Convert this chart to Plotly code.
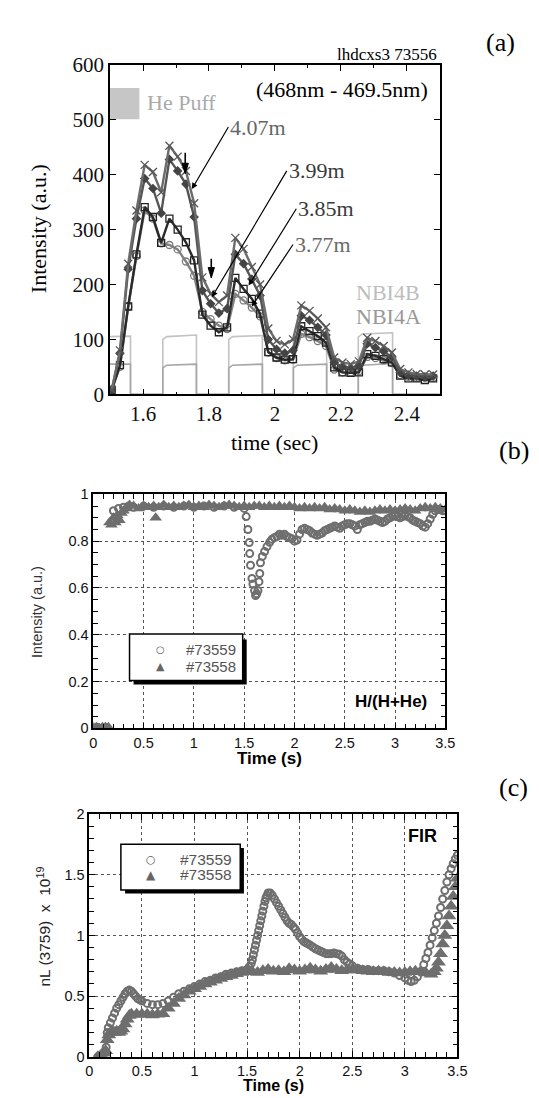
import plotly.graph_objects as go

# ---------------- Panel (a) data ----------------
time_a = [1.505, 1.53, 1.555, 1.58, 1.605, 1.63, 1.655, 1.68, 1.705, 1.73,
          1.755, 1.78, 1.805, 1.83, 1.855, 1.88, 1.905, 1.93, 1.955, 1.98,
          2.005, 2.03, 2.055, 2.08, 2.105, 2.13, 2.155, 2.18, 2.205, 2.23,
          2.255, 2.28, 2.305, 2.33, 2.355, 2.38, 2.405, 2.43, 2.455, 2.48]
int_407 = [8, 80, 238, 335, 418, 405, 368, 453, 433, 407,
           348, 213, 183, 168, 180, 285, 265, 232, 200, 120,
           97, 91, 100, 162, 152, 138, 122, 67, 58, 55,
           60, 103, 97, 88, 76, 46, 40, 37, 36, 36]
int_399 = [8, 75, 228, 320, 393, 375, 330, 428, 407, 383,
           323, 189, 165, 148, 156, 255, 238, 210, 180, 100,
           82, 75, 80, 143, 135, 122, 108, 58, 50, 48,
           52, 92, 85, 78, 68, 40, 35, 33, 32, 33]
int_385 = [8, 53, 160, 255, 341, 323, 276, 320, 300, 277,
           244, 145, 125, 113, 122, 212, 192, 174, 147, 77,
           67, 63, 64, 124, 115, 106, 94, 49, 40, 39,
           40, 73, 70, 64, 58, 34, 29, 29, 26, 29]
int_377 = [8, 50, 160, 252, 335, 320, 275, 272, 264, 242,
           216, 150, 137, 125, 119, 183, 171, 158, 142, 76,
           66, 62, 63, 110, 104, 97, 88, 45, 40, 40,
           42, 68, 66, 62, 57, 35, 32, 30, 30, 30]
nbi_time = [1.5, 1.562, 1.562, 1.66, 1.66, 1.672, 1.762, 1.762, 1.86, 1.86,
            1.872, 1.962, 1.962, 2.056, 2.056, 2.068, 2.157, 2.157, 2.253, 2.253,
            2.265, 2.357, 2.357, 2.5]
nbi4b = [105, 106, 0, 0, 100, 105, 108, 0, 0, 100,
         105, 107, 0, 0, 100, 104, 106, 0, 0, 104,
         110, 112, 0, 0]
nbi4a = [55, 55, 0, 0, 48, 53, 55, 0, 0, 48,
         53, 55, 0, 0, 48, 53, 55, 0, 0, 48,
         53, 56, 0, 0]

# ---------------- Panel (b) data ----------------
b_t58 = [0.0, 0.03, 0.06, 0.09, 0.12, 0.15, 0.16, 0.18, 0.2, 0.22,
         0.24, 0.26, 0.28, 0.3, 0.33, 0.36, 0.4, 0.45, 0.5, 0.55,
         0.6, 0.62, 0.65, 0.7, 0.75, 0.8, 0.85, 0.9, 0.95, 1.0,
         1.05, 1.1, 1.15, 1.2, 1.25, 1.3, 1.35, 1.4, 1.45, 1.5,
         1.55, 1.6, 1.65, 1.7, 1.75, 1.8, 1.85, 1.9, 1.95, 2.0,
         2.05, 2.1, 2.15, 2.2, 2.25, 2.3, 2.35, 2.4, 2.45, 2.5,
         2.55, 2.6, 2.65, 2.7, 2.75, 2.8, 2.85, 2.9, 2.95, 3.0,
         3.05, 3.1, 3.15, 3.2, 3.25, 3.3, 3.35, 3.4, 3.45, 3.5]
b_v58 = [0.005, 0.005, 0.0, 0.005, 0.005, 0.005, 0.88, 0.87, 0.90, 0.88,
         0.91, 0.89, 0.92, 0.93, 0.94, 0.955, 0.95, 0.94, 0.95, 0.945,
         0.95, 0.90, 0.945, 0.955, 0.945, 0.95, 0.945, 0.95, 0.955, 0.945,
         0.95, 0.945, 0.955, 0.95, 0.945, 0.95, 0.955, 0.95, 0.945, 0.95,
         0.945, 0.95, 0.95, 0.945, 0.95, 0.945, 0.95, 0.945, 0.95, 0.945,
         0.94, 0.945, 0.94, 0.945, 0.94, 0.945, 0.935, 0.94, 0.935, 0.93,
         0.935, 0.93, 0.925, 0.93, 0.925, 0.93, 0.935, 0.93, 0.935, 0.93,
         0.935, 0.94, 0.935, 0.93, 0.94, 0.945, 0.94, 0.945, 0.94, 0.935]
b_t59 = [0.0, 0.04, 0.08, 0.12, 0.2, 0.25, 0.3, 0.35, 0.4, 0.5,
         0.6, 0.7, 0.8, 0.9, 1.0, 1.1, 1.2, 1.3, 1.4, 1.5,
         1.52, 1.537, 1.55, 1.555, 1.563, 1.577, 1.587, 1.603, 1.613, 1.625,
         1.637, 1.647, 1.655, 1.662, 1.68, 1.703, 1.727, 1.753, 1.775,
         1.8, 1.825, 1.85, 1.875, 1.9, 1.925, 1.95, 1.975, 2.0, 2.025,
         2.05, 2.075, 2.1, 2.125, 2.15, 2.175, 2.2, 2.225, 2.25, 2.275,
         2.3, 2.325, 2.35, 2.375, 2.4, 2.425, 2.45, 2.475, 2.5, 2.525,
         2.55, 2.575, 2.6, 2.625, 2.65, 2.675, 2.7, 2.725, 2.75, 2.775,
         2.8, 2.825, 2.85, 2.875, 2.9, 2.925, 2.95, 2.975, 3.0, 3.025,
         3.05, 3.075, 3.1, 3.125, 3.15, 3.175, 3.2, 3.225, 3.25, 3.275,
         3.3, 3.325, 3.35, 3.375, 3.4, 3.425, 3.45, 3.475, 3.5]
b_v59 = [0.0, 0.005, 0.0, 0.005, 0.93, 0.94, 0.945, 0.95, 0.945, 0.95,
         0.945, 0.95, 0.945, 0.95, 0.945, 0.95, 0.945, 0.95, 0.945, 0.94,
         0.905, 0.85, 0.794, 0.747, 0.697, 0.641, 0.617, 0.589, 0.568, 0.575,
         0.589, 0.627, 0.662, 0.708, 0.735, 0.756, 0.777, 0.795, 0.808,
         0.815, 0.82, 0.83, 0.825, 0.83, 0.82, 0.815, 0.81, 0.80, 0.805,
         0.83, 0.85, 0.855, 0.85, 0.845, 0.835, 0.83, 0.825, 0.83, 0.835,
         0.845, 0.85, 0.855, 0.86, 0.865, 0.86, 0.855, 0.865, 0.87, 0.875,
         0.875, 0.87, 0.865, 0.85, 0.87, 0.875, 0.88, 0.885, 0.885, 0.89,
         0.895, 0.89, 0.885, 0.88, 0.885, 0.895, 0.9, 0.905, 0.91, 0.905,
         0.9, 0.905, 0.91, 0.905, 0.9, 0.89, 0.885, 0.88, 0.875, 0.865,
         0.86, 0.875, 0.895, 0.915, 0.93, 0.935, 0.935, 0.93, 0.93]

# ---------------- Panel (c) data ----------------
c_t58 = [0.08, 0.1, 0.12, 0.14, 0.155, 0.17, 0.185, 0.2, 0.22, 0.24,
         0.26, 0.28, 0.3, 0.32, 0.34, 0.36, 0.38, 0.4, 0.45, 0.5,
         0.55, 0.6, 0.65, 0.7, 0.75, 0.8, 0.85, 0.9, 0.95, 1.0,
         1.05, 1.1, 1.15, 1.2, 1.25, 1.3, 1.35, 1.4, 1.45, 1.5,
         1.55, 1.6, 1.65, 1.7, 1.75, 1.8, 1.85, 1.9, 1.95, 2.0,
         2.05, 2.1, 2.15, 2.2, 2.25, 2.3, 2.35, 2.4, 2.45, 2.5,
         2.55, 2.6, 2.65, 2.7, 2.75, 2.8, 2.85, 2.9, 2.95, 3.0,
         3.05, 3.1, 3.15, 3.2, 3.25, 3.28, 3.3, 3.32, 3.34, 3.36,
         3.38, 3.4, 3.42, 3.44, 3.46, 3.48, 3.5]
c_v58 = [0.0, 0.0, 0.01, 0.03, 0.05, 0.14, 0.18, 0.2, 0.21, 0.2,
         0.21, 0.2, 0.21, 0.23, 0.27, 0.31, 0.34, 0.35, 0.35, 0.35,
         0.35, 0.345, 0.35, 0.355, 0.4, 0.44, 0.48, 0.51, 0.54, 0.56,
         0.58, 0.6, 0.615, 0.63, 0.645, 0.66, 0.67, 0.685, 0.695, 0.705,
         0.70, 0.695, 0.71, 0.72, 0.705, 0.71, 0.70, 0.725, 0.715, 0.705,
         0.715, 0.73, 0.715, 0.705, 0.72, 0.735, 0.72, 0.71, 0.715, 0.72,
         0.715, 0.71, 0.705, 0.70, 0.705, 0.70, 0.695, 0.695, 0.69, 0.695,
         0.70, 0.705, 0.70, 0.69, 0.68, 0.70, 0.73, 0.78, 0.85, 0.93,
         1.0, 1.08, 1.16, 1.24, 1.32, 1.40, 1.47]
c_t59 = [0.08, 0.1, 0.12, 0.14, 0.16, 0.17, 0.18, 0.2, 0.22, 0.24,
         0.26, 0.28, 0.3, 0.32, 0.34, 0.36, 0.38, 0.4, 0.42, 0.44,
         0.46, 0.48, 0.5, 0.55, 0.6, 0.65, 0.7, 0.75, 0.8, 0.85,
         0.9, 0.95, 1.0, 1.05, 1.1, 1.15, 1.2, 1.25, 1.3, 1.35,
         1.4, 1.45, 1.5, 1.52, 1.54, 1.55, 1.56, 1.57, 1.58, 1.59,
         1.6, 1.61, 1.62, 1.63, 1.64, 1.65, 1.66, 1.67, 1.68, 1.69,
         1.7, 1.72, 1.74, 1.76, 1.78, 1.8, 1.82, 1.84, 1.86, 1.88,
         1.9, 1.92, 1.94, 1.96, 1.98, 2.0, 2.02, 2.04, 2.06, 2.08,
         2.1, 2.125, 2.15, 2.175, 2.2, 2.225, 2.25, 2.275, 2.3, 2.325,
         2.35, 2.375, 2.4, 2.425, 2.45, 2.475, 2.5, 2.55,
         2.6, 2.65, 2.7, 2.75, 2.8, 2.85, 2.9, 2.95, 3.0, 3.03,
         3.06, 3.09, 3.12, 3.15, 3.18, 3.2, 3.22, 3.24, 3.26, 3.28,
         3.3, 3.32, 3.34, 3.36, 3.38, 3.4, 3.42, 3.44, 3.46, 3.48, 3.5]
c_v59 = [0.0, 0.0, 0.02, 0.04, 0.08, 0.2, 0.24, 0.28, 0.32, 0.36,
         0.40, 0.43, 0.46, 0.49, 0.52, 0.54, 0.55, 0.54, 0.52, 0.50,
         0.48, 0.47, 0.46, 0.44, 0.43, 0.43, 0.44, 0.46, 0.49, 0.52,
         0.54, 0.56, 0.58, 0.60, 0.62, 0.63, 0.65, 0.66, 0.68, 0.69,
         0.70, 0.71, 0.72, 0.74, 0.77, 0.80, 0.84, 0.88, 0.92, 0.96,
         1.0, 1.04, 1.08, 1.12, 1.16, 1.2, 1.24, 1.28, 1.31, 1.33,
         1.35, 1.35, 1.33, 1.30, 1.27, 1.24, 1.21, 1.18, 1.15, 1.12,
         1.10, 1.09, 1.07, 1.05, 1.02, 0.99, 0.97, 0.95, 0.94, 0.93,
         0.92, 0.905, 0.89, 0.88, 0.87, 0.86, 0.85, 0.85, 0.85, 0.855,
         0.85, 0.845, 0.83, 0.80, 0.78, 0.765, 0.75, 0.73,
         0.72, 0.72, 0.71, 0.71, 0.71, 0.70, 0.69, 0.67, 0.65, 0.63,
         0.62, 0.63, 0.66, 0.70, 0.76, 0.81, 0.86, 0.92, 0.98, 1.04,
         1.10, 1.16, 1.23, 1.30, 1.37, 1.44, 1.50, 1.55, 1.59, 1.63, 1.66]

# legend entries (text)
legend_names = ["#73559", "#73558"]

SERIF = "Liberation Serif"
SANS = "Liberation Sans"
MARK = "#6e6e6e"

fig = go.Figure()

# NBI traces (panel a)
fig.add_trace(go.Scatter(x=nbi_time, y=nbi4b, mode="lines", line=dict(color="#c2c2c2", width=1.6),
                         showlegend=False, xaxis="x", yaxis="y"))
fig.add_trace(go.Scatter(x=nbi_time, y=nbi4a, mode="lines", line=dict(color="#a6a6a6", width=1.6),
                         showlegend=False, xaxis="x", yaxis="y"))

series_a = [
    (int_377, "#828282", "circle-open", 7, "#7a7a7a"),
    (int_385, "#2a2a2a", "square-open", 7, "#222222"),
    (int_399, "#555555", "diamond", 6, "#444444"),
    (int_407, "#6c6c6c", "x-thin", 8, "#555555"),
]
for vals, lc, sym, sz, mc in series_a:
    fig.add_trace(go.Scatter(
        x=time_a, y=vals, mode="lines+markers",
        line=dict(color=lc, width=2.4),
        marker=dict(symbol=sym, size=sz, color=mc, line=dict(width=1.3, color=mc)),
        showlegend=False, xaxis="x", yaxis="y"))

# Panel b
fig.add_trace(go.Scatter(x=b_t59, y=b_v59, mode="markers", name=legend_names[0], showlegend=False,
                         marker=dict(symbol="circle-open", size=7, color=MARK, line=dict(width=2)),
                         xaxis="x2", yaxis="y2"))
fig.add_trace(go.Scatter(x=b_t58, y=b_v58, mode="markers", name=legend_names[1], showlegend=False,
                         marker=dict(symbol="triangle-up", size=11, color=MARK),
                         xaxis="x2", yaxis="y2"))

# Panel c
fig.add_trace(go.Scatter(x=c_t58, y=c_v58, mode="markers", name=legend_names[1], showlegend=False,
                         marker=dict(symbol="triangle-up", size=13, color=MARK),
                         xaxis="x3", yaxis="y3"))
fig.add_trace(go.Scatter(x=c_t59, y=c_v59, mode="markers", name=legend_names[0], showlegend=False,
                         marker=dict(symbol="circle-open", size=7, color=MARK, line=dict(width=2)),
                         xaxis="x3", yaxis="y3"))

def axis_common(font, size):
    return dict(showline=True, linecolor="black", linewidth=1.5, mirror="allticks",
                ticks="inside", ticklen=6, tickcolor="black", zeroline=False,
                tickfont=dict(family=font, size=size, color="#111"))

ax_a = axis_common(SERIF, 21)
fig.update_layout(
    xaxis=dict(domain=[0.1868, 0.8147], range=[1.5, 2.5], dtick=0.2, showgrid=False,
               minor=dict(ticks="inside", dtick=0.1, ticklen=3, tickcolor="black"),
               anchor="y", **ax_a),
    yaxis=dict(domain=[0.6515, 0.9581], range=[0, 600], dtick=100, showgrid=False,
               anchor="x", **ax_a),
)
ax_b = axis_common(SANS, 14.5)
grid = dict(showgrid=True, gridcolor="#555", griddash="dot", gridwidth=1)
fig.update_layout(
    xaxis2=dict(domain=[0.1549, 0.8254], range=[0, 3.5], dtick=0.5, anchor="y2",
                minor=dict(ticks="inside", dtick=0.1, ticklen=5, tickcolor="black", showgrid=False),
                **grid, **ax_b),
    yaxis2=dict(domain=[0.3404, 0.5583], range=[0, 1], dtick=0.2, anchor="x2",
                minor=dict(ticks="inside", dtick=0.05, ticklen=5, tickcolor="black", showgrid=False),
                **grid, **ax_b),
)
ax_c = axis_common(SANS, 14.5)
fig.update_layout(
    xaxis3=dict(domain=[0.1473, 0.8484], range=[0, 3.5], dtick=0.5, anchor="y3",
                minor=dict(ticks="inside", dtick=0.1, ticklen=5, tickcolor="black", showgrid=False),
                **grid, **ax_c),
    yaxis3=dict(domain=[0.0346, 0.2607], range=[0, 2], dtick=0.5, anchor="x3",
                minor=dict(ticks="inside", dtick=0.1, ticklen=5, tickcolor="black", showgrid=False),
                **grid, **ax_c),
)

shapes = [
    # He puff box
    dict(type="rect", xref="x", yref="y", x0=1.498, x1=1.589, y0=501, y1=558,
         fillcolor="#c6c6c6", line=dict(width=0), layer="below"),
    # legend (b): shadow + box
    dict(type="rect", xref="x2", yref="y2", x0=0.40, x1=1.525, y0=0.188, y1=0.38,
         fillcolor="black", line=dict(width=0), layer="above"),
    dict(type="rect", xref="x2", yref="y2", x0=0.36, x1=1.485, y0=0.205, y1=0.403,
         fillcolor="white", line=dict(width=1.5, color="black"), layer="above"),
    # legend (c): shadow + box
    dict(type="rect", xref="x3", yref="y3", x0=0.34, x1=1.47, y0=1.345, y1=1.72,
         fillcolor="black", line=dict(width=0), layer="above"),
    dict(type="rect", xref="x3", yref="y3", x0=0.30, x1=1.435, y0=1.375, y1=1.75,
         fillcolor="white", line=dict(width=1.5, color="black"), layer="above"),
    # short vertical pointer arrows in panel (a): shaft + filled head
    dict(type="line", xref="x", yref="y", x0=1.728, x1=1.728, y0=440, y1=418,
         line=dict(color="black", width=1.6)),
    dict(type="path", xref="x", yref="y", path="M 1.7185,421 L 1.7375,421 L 1.728,402 Z",
         fillcolor="black", line=dict(color="black", width=1)),
    dict(type="line", xref="x", yref="y", x0=1.807, x1=1.807, y0=247, y1=228,
         line=dict(color="black", width=1.6)),
    dict(type="path", xref="x", yref="y", path="M 1.7975,231 L 1.8165,231 L 1.807,212 Z",
         fillcolor="black", line=dict(color="black", width=1)),
]
fig.update_layout(shapes=shapes)

ann = []
def txt(x, y, s, size, font=SERIF, color="black", xref="paper", yref="paper", angle=0,
        xanchor="center", yanchor="middle"):
    ann.append(dict(x=x, y=y, xref=xref, yref=yref, text=s, showarrow=False, textangle=angle,
                    font=dict(family=font, size=size, color=color), xanchor=xanchor, yanchor=yanchor))

# panel labels & titles
txt(0.9308, 0.979, "(a)", 26)
txt(0.9562, 0.5993, "(b)", 26)
txt(0.9555, 0.2851, "(c)", 26)
txt(0.8126, 0.968, "lhdcxs3 73556", 17, xanchor="right")
txt(0.051, 0.806, "Intensity (a.u.)", 22, angle=-90)
txt(0.5004, 0.6066, "time (sec)", 22)
txt(0.0479, 0.449, "Intensity (a.u.)", 14.5, font=SANS, color="#333", angle=-90)
txt(0.4909, 0.3124, "<b>Time (s)</b>", 17, font=SANS)
txt(0.0605, 0.1557, "nL (3759) &nbsp;x &nbsp;10<sup>19</sup>", 15.5, font=SANS, color="#222", angle=-90)
txt(0.4978, 0.0075, "<b>Time (s)</b>", 16, font=SANS)

# legends (b) and (c)
txt(0.663, 0.339, "○", 10, font="DejaVu Sans", color="#555", xref="x2", yref="y2")
txt(0.663, 0.263, "▲", 11, font="DejaVu Sans", color="#666", xref="x2", yref="y2")
txt(0.905, 0.339, legend_names[0], 15, font=SANS, color="#555", xref="x2", yref="y2", xanchor="left")
txt(0.905, 0.263, legend_names[1], 15, font=SANS, color="#555", xref="x2", yref="y2", xanchor="left")
txt(0.586, 1.622, "○", 11, font="DejaVu Sans", color="#555", xref="x3", yref="y3")
txt(0.586, 1.5, "▲", 12, font="DejaVu Sans", color="#666", xref="x3", yref="y3")
txt(0.847, 1.625, legend_names[0], 15.5, font=SANS, color="#555", xref="x3", yref="y3", xanchor="left")
txt(0.847, 1.502, legend_names[1], 15.5, font=SANS, color="#555", xref="x3", yref="y3", xanchor="left")

# in-plot texts, panel a
txt(2.205, 555, "(468nm - 469.5nm)", 22, xref="x", yref="y")
txt(1.607, 531, "He Puff", 22, color="#aaaaaa", xref="x", yref="y", xanchor="left")
txt(2.344, 186, "NBI4B", 22, color="#bdbdbd", xref="x", yref="y")
txt(2.344, 142, "NBI4A", 22, color="#999999", xref="x", yref="y")
txt(2.96, 0.113, "<b>H/(H+He)</b>", 17, font=SANS, xref="x2", yref="y2")
txt(3.17, 1.82, "<b>FIR</b>", 18, font=SANS, xref="x3", yref="y3")

# labelled arrows: label anchored at its left edge, arrow from label to curve
def label_arrow(tip_x, tip_y, lab_x, lab_y, s, color):
    ann.append(dict(x=tip_x, y=tip_y, ax=lab_x, ay=lab_y, xref="x", yref="y", axref="x", ayref="y",
                    text=s, xanchor="left", yanchor="middle", showarrow=True, arrowhead=2,
                    arrowsize=1.0, arrowwidth=1.2, arrowcolor="black",
                    font=dict(family=SERIF, size=22, color=color)))

label_arrow(1.748, 374, 1.859, 487, "4.07m", "#666666")
label_arrow(1.809, 177, 2.036, 407, "3.99m", "#3a3a3a")
label_arrow(1.920, 198, 2.065, 338, "3.85m", "#3a3a3a")
label_arrow(1.930, 160, 2.055, 273, "3.77m", "#6a6a6a")

fig.update_layout(annotations=ann, width=539, height=1098, showlegend=False,
                  margin=dict(l=0, r=0, t=0, b=0),
                  paper_bgcolor="white", plot_bgcolor="white")

fig.write_html("out.html")
